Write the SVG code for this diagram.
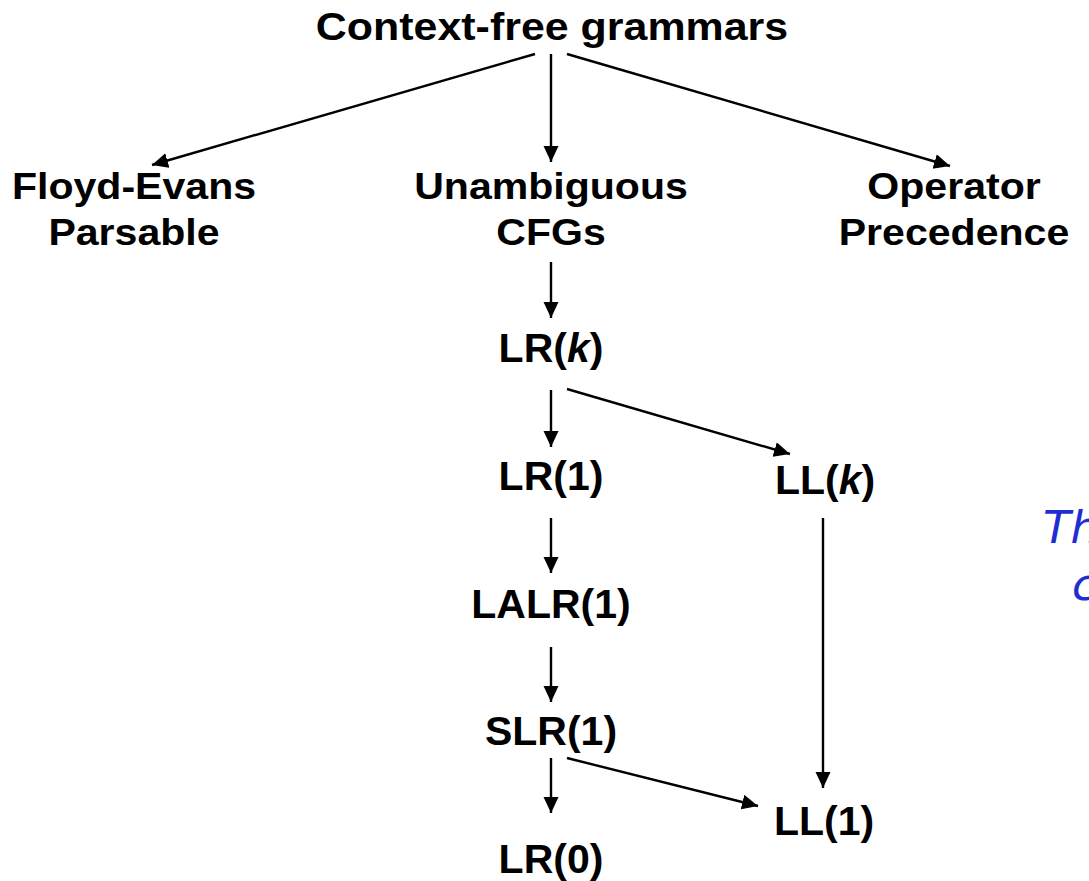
<svg xmlns="http://www.w3.org/2000/svg" width="1089" height="881" viewBox="0 0 1089 881">
<style>
.n{font-family:"Liberation Sans",Arial,sans-serif;font-weight:bold;fill:#000;text-anchor:middle}
.t{font-size:37px}
.b{font-size:41px}
.e{stroke:#000;stroke-width:2.4;fill:none;marker-end:url(#ah)}
.note{font-family:"DejaVu Sans","Liberation Sans",sans-serif;font-style:italic;font-size:45px;fill:#1f2ed2}
</style>
<defs>
<marker id="ah" markerUnits="userSpaceOnUse" markerWidth="17" markerHeight="16" refX="16" refY="7.5" orient="auto">
<path d="M0,0 L16,7.5 L0,15 z" fill="#000"/>
</marker>
</defs>
<rect width="1089" height="881" fill="#fff"/>
<g id="connectors">
<line class="e" x1="535" y1="54" x2="152" y2="165"/>
<line class="e" x1="551" y1="54" x2="551" y2="162"/>
<line class="e" x1="567" y1="54" x2="950" y2="166"/>
<line class="e" x1="551" y1="262" x2="551" y2="318"/>
<line class="e" x1="551" y1="390" x2="551" y2="447"/>
<line class="e" x1="567" y1="389" x2="790" y2="454"/>
<line class="e" x1="551" y1="518" x2="551" y2="573"/>
<line class="e" x1="551" y1="647" x2="551" y2="702"/>
<line class="e" x1="551" y1="758" x2="551" y2="813"/>
<line class="e" x1="567" y1="758" x2="758" y2="806"/>
<line class="e" x1="823" y1="518" x2="823" y2="788"/>
</g>
<g id="cfg" transform="translate(552,0) scale(1.13,1)"><text class="n" x="0" y="40" font-size="38">Context-free grammars</text></g>
<g id="floyd" transform="translate(134,0) scale(1.11,1)"><text class="n t" x="0" y="199">Floyd-Evans</text><text class="n t" x="0" y="245">Parsable</text></g>
<g id="unamb" transform="translate(551,0) scale(1.11,1)"><text class="n t" x="0" y="199">Unambiguous</text><text class="n t" x="0" y="245">CFGs</text></g>
<g id="opprec" transform="translate(954,0) scale(1.11,1)"><text class="n t" x="0" y="199">Operator</text><text class="n t" x="0" y="245">Precedence</text></g>
<g id="lrk"><text class="n b" x="551" y="362">LR(<tspan font-style="italic">k</tspan>)</text></g>
<g id="lr1"><text class="n b" x="551" y="490">LR(1)</text></g>
<g id="llk"><text class="n b" x="825" y="494">LL(<tspan font-style="italic">k</tspan>)</text></g>
<g id="lalr1"><text class="n b" x="551" y="618">LALR(1)</text></g>
<g id="slr1"><text class="n b" x="551" y="745">SLR(1)</text></g>
<g id="lr0"><text class="n b" x="551" y="873">LR(0)</text></g>
<g id="ll1"><text class="n b" x="824" y="835">LL(1)</text></g>
<g id="note"><text class="note" x="1043" y="543">Th</text><text class="note" x="1072" y="600">c</text></g>
</svg>
